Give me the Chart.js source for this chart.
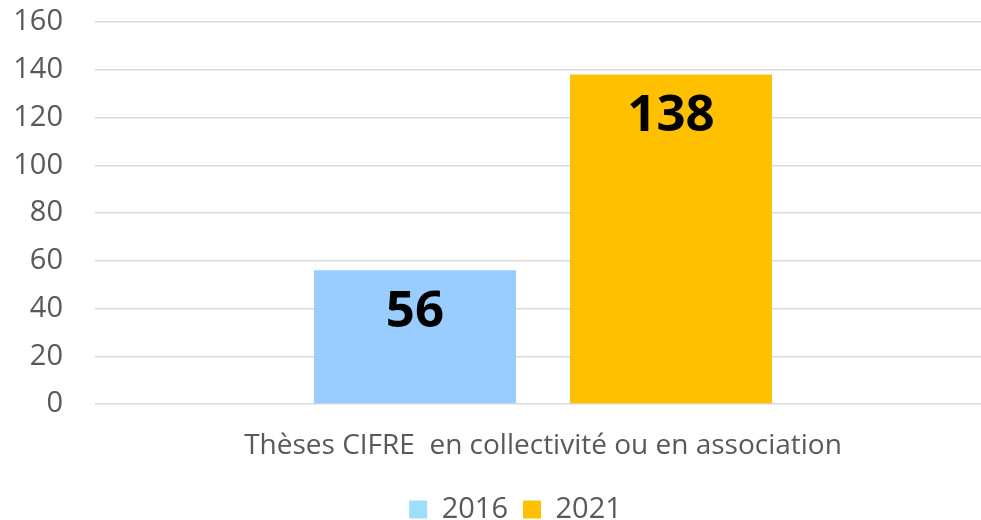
<!DOCTYPE html>
<html>
<head>
<meta charset="utf-8">
<script src="https://cdn.jsdelivr.net/npm/chart.js"></script>
<style>
  html, body { margin: 0; padding: 0; background: #fff; overflow: hidden; }
  /* the plot runs a little past the right edge in the original */
  #wrap { width: 992px; height: 520px; position: relative; }
</style>
</head>
<body>
<div id="wrap"><canvas id="chart"></canvas></div>
<script>
const categories = ['Thèses CIFRE  en collectivité ou en association'];
const seriesNames = ['2016', '2021'];
const values2016 = [56];
const values2021 = [138];
const yTicks = [0, 20, 40, 60, 80, 100, 120, 140, 160];

const barColors = ['#99CCFF', '#FFC000'];
const legendColors = ['#9DDFFB', '#FFC000'];

// big bold value inside each bar, near the top
const valueLabels = {
    id: 'valueLabels',
    afterDatasetsDraw(chart) {
        const ctx = chart.ctx;
        ctx.save();
        ctx.font = 'bold 51px "Open Sans"';
        ctx.fillStyle = '#000';
        ctx.textAlign = 'center';
        ctx.textBaseline = 'middle';
        chart.data.datasets.forEach((ds, i) => {
            chart.getDatasetMeta(i).data.forEach((bar, j) => {
                ctx.fillText(String(ds.data[j]), bar.x, bar.y + 42);
            });
        });
        ctx.restore();
    }
};

const chart = new Chart(document.getElementById('chart'), {
    type: 'bar',
    data: {
        labels: categories,
        datasets: [
            { label: seriesNames[0], data: values2016, backgroundColor: barColors[0] },
            { label: seriesNames[1], data: values2021, backgroundColor: barColors[1] }
        ]
    },
    options: {
        responsive: true,
        maintainAspectRatio: false,
        animation: false,
        categoryPercentage: 0.5714,
        barPercentage: 0.789,
        layout: { padding: { top: 22, right: 1, left: 0, bottom: 0 } },
        scales: {
            y: {
                min: 0,
                max: 160,
                afterBuildTicks: (axis) => { axis.ticks = yTicks.map(v => ({ value: v })); },
                afterFit: (axis) => {
                    axis.width = 95;
                    axis.paddingTop = 0;
                    axis.paddingBottom = 0;
                },
                border: { display: false },
                grid: { color: '#D9D9D9', lineWidth: 1.5, drawTicks: false },
                ticks: {
                    padding: 32,
                    color: '#595959',
                    font: { family: '"Open Sans"', size: 29 }
                }
            },
            x: {
                afterFit: (axis) => {
                    axis.height = 76;
                    axis.paddingLeft = 0;
                    axis.paddingRight = 0;
                },
                border: { display: false },
                grid: { display: false, drawTicks: false },
                ticks: {
                    padding: 25,
                    maxRotation: 0,
                    color: '#595959',
                    font: { family: '"Open Sans"', size: 28 }
                }
            }
        },
        plugins: {
            legend: {
                position: 'bottom',
                labels: {
                    boxWidth: 18,
                    boxHeight: 18,
                    padding: 15,
                    color: '#595959',
                    font: { family: '"Open Sans"', size: 29 },
                    generateLabels: (chart) => chart.data.datasets.map((ds, i) => ({
                        text: ds.label,
                        fillStyle: legendColors[i],
                        strokeStyle: legendColors[i],
                        lineWidth: 0,
                        fontColor: '#595959',
                        datasetIndex: i
                    }))
                }
            },
            tooltip: { enabled: false }
        }
    },
    plugins: [valueLabels]
});

// fixed legend band height so the plot area matches the original
const legendFit = chart.legend.fit;
chart.legend.fit = function() {
    legendFit.call(this);
    this.height = 40;
};
// legend sits a bit right of centre in the original
const legendDraw = chart.legend.draw;
chart.legend.draw = function() {
    this.ctx.save();
    this.ctx.translate(20, 0);
    legendDraw.call(this);
    this.ctx.restore();
};
chart.update();
</script>
</body>
</html>
